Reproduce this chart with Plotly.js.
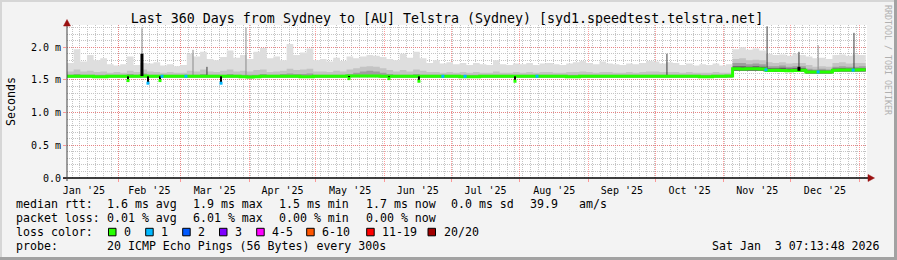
<!DOCTYPE html>
<html><head><meta charset="utf-8">
<script src="https://cdn.plot.ly/plotly-3.0.1.min.js"></script>
<style>html,body{margin:0;padding:0;background:#f3f3f3;} #chart{width:897px;height:260px;}</style>
</head><body><div id="chart"></div>
<script>
// ---- time sampling (3-day steps from the graph start) ----
const START_MS = Date.UTC(2025, 0, 8, 21, 0);
const STEP_MS = 3 * 86400000;
const X_RANGE = ['2025-01-08 21:00', '2026-01-04 11:00'];

// ---- smoke envelopes (ms) ----
const maxSmoke = [1.76,1.97,1.78,1.88,1.80,1.83,1.74,1.72,1.74,1.86,
 1.73,1.76,1.75,1.77,1.72,1.74,1.71,1.73,1.90,1.86,
 1.93,1.82,1.80,1.85,1.95,1.84,1.88,1.82,1.93,1.99,
 1.83,1.86,1.80,2.05,1.88,1.92,1.98,1.80,1.82,1.78,
 1.84,1.79,1.86,1.83,1.86,1.88,1.87,1.85,1.82,1.80,
 1.90,1.84,1.93,1.83,1.76,1.80,1.75,1.77,1.74,1.76,
 1.73,1.76,1.74,1.73,1.80,1.74,1.73,1.75,1.74,1.76,
 1.73,1.75,1.76,1.74,1.73,1.75,1.77,1.79,1.76,1.74,
 1.78,1.75,1.74,1.73,1.75,1.74,1.76,1.79,1.78,1.75,
 1.77,1.76,1.73,1.75,1.72,1.74,1.73,1.75,1.72,1.74,
 1.97,2.00,1.96,1.98,1.95,1.90,1.88,1.89,1.87,1.90,
 1.88,1.86,1.83,1.84,1.82,1.88,1.89,1.87,1.89,1.88,1.88];
const smokeMid = [1.63,1.66,1.63,1.64,1.62,1.63,1.61,1.62,1.61,1.64,
 1.62,1.66,1.63,1.62,1.61,1.62,1.61,1.61,1.64,1.63,
 1.66,1.63,1.62,1.64,1.66,1.63,1.64,1.63,1.65,1.66,
 1.62,1.63,1.64,1.67,1.65,1.66,1.67,1.63,1.63,1.62,
 1.64,1.63,1.66,1.68,1.70,1.71,1.70,1.68,1.65,1.63,
 1.65,1.63,1.66,1.64,1.62,1.62,1.61,1.62,1.61,1.62,
 1.61,1.62,1.61,1.61,1.63,1.61,1.61,1.62,1.61,1.62,
 1.61,1.62,1.62,1.61,1.61,1.62,1.62,1.63,1.62,1.61,
 1.62,1.62,1.61,1.61,1.62,1.61,1.62,1.63,1.63,1.62,
 1.62,1.62,1.61,1.62,1.61,1.61,1.61,1.62,1.61,1.61,
 1.82,1.83,1.80,1.81,1.80,1.77,1.76,1.77,1.75,1.76,
 1.76,1.73,1.70,1.71,1.70,1.76,1.77,1.75,1.76,1.76,1.75];
const smokeInner = [1.58,1.59,1.58,1.58,1.58,1.58,1.58,1.58,1.58,1.59,
 1.58,1.60,1.58,1.58,1.58,1.58,1.58,1.58,1.58,1.58,
 1.59,1.58,1.58,1.58,1.59,1.58,1.58,1.58,1.58,1.59,
 1.58,1.58,1.59,1.60,1.59,1.59,1.60,1.58,1.58,1.58,
 1.58,1.58,1.59,1.61,1.63,1.64,1.63,1.61,1.59,1.58,
 1.58,1.58,1.59,1.58,1.58,1.58,1.58,1.58,1.58,1.58,
 1.58,1.58,1.58,1.58,1.58,1.58,1.58,1.58,1.58,1.58,
 1.58,1.58,1.58,1.58,1.58,1.58,1.58,1.58,1.58,1.58,
 1.58,1.58,1.58,1.58,1.58,1.58,1.58,1.58,1.58,1.58,
 1.58,1.58,1.58,1.58,1.58,1.58,1.58,1.58,1.58,1.58,
 1.76,1.76,1.74,1.75,1.74,1.71,1.71,1.72,1.70,1.71,
 1.71,1.67,1.66,1.67,1.66,1.70,1.71,1.70,1.70,1.71,1.70];
const smokeLow = [1.535,1.535,1.535,1.535,1.535,1.535,1.535,1.535,1.535,1.535,
 1.535,1.535,1.535,1.535,1.535,1.535,1.535,1.535,1.535,1.535,
 1.535,1.535,1.535,1.535,1.535,1.535,1.53,1.525,1.53,1.535,
 1.535,1.535,1.535,1.535,1.535,1.535,1.535,1.535,1.535,1.535,
 1.535,1.535,1.54,1.54,1.54,1.54,1.54,1.535,1.535,1.535,
 1.535,1.535,1.535,1.535,1.535,1.535,1.535,1.535,1.535,1.535,
 1.535,1.535,1.535,1.535,1.535,1.535,1.535,1.535,1.535,1.535,
 1.535,1.535,1.535,1.535,1.535,1.535,1.535,1.535,1.535,1.535,
 1.535,1.535,1.535,1.535,1.535,1.535,1.535,1.535,1.535,1.535,
 1.535,1.535,1.535,1.535,1.535,1.535,1.535,1.535,1.535,1.535,
 1.64,1.64,1.64,1.64,1.64,1.625,1.625,1.625,1.625,1.625,
 1.625,1.60,1.60,1.60,1.60,1.63,1.63,1.63,1.63,1.63,1.63];
// darkest core, Nov–Dec only (samples 100..120)
const smokeCore = [1.71,1.71,1.70,1.71,1.70,1.68,1.68,1.685,1.675,1.68,
 1.68,1.645,1.64,1.645,1.64,1.675,1.68,1.675,1.675,1.68,1.675];

// ---- median rtt (ms) ----
const median = [1.555,1.555,1.555,1.555,1.55,1.55,1.555,1.555,1.555,1.555,
 1.555,1.56,1.555,1.555,1.555,1.555,1.555,1.555,1.555,1.555,
 1.555,1.555,1.555,1.555,1.555,1.555,1.55,1.545,1.55,1.555,
 1.555,1.555,1.555,1.555,1.555,1.55,1.55,1.555,1.555,1.555,
 1.555,1.555,1.56,1.56,1.56,1.56,1.56,1.555,1.555,1.555,
 1.555,1.555,1.555,1.555,1.555,1.555,1.555,1.555,1.555,1.55,
 1.55,1.55,1.555,1.555,1.555,1.555,1.555,1.555,1.555,1.555,
 1.555,1.555,1.555,1.555,1.555,1.55,1.55,1.555,1.555,1.555,
 1.555,1.555,1.555,1.555,1.555,1.555,1.555,1.555,1.555,1.555,
 1.555,1.555,1.555,1.555,1.555,1.55,1.55,1.555,1.555,1.56,
 1.672,1.668,1.670,1.672,1.668,1.645,1.648,1.645,1.642,1.645,
 1.648,1.622,1.620,1.622,1.620,1.648,1.650,1.652,1.650,1.655,1.655];

// ---- single-sample spikes ----
const graySpikeDates = ['2025-02-11 16:00','2025-03-06 16:00','2025-03-30 13:00','2025-12-13 10:00'];
const graySpikeBase  = [1.56, 1.56, 1.56, 1.62];
const graySpikeTop   = [2.29, 1.96, 2.30, 2.03];
const darkSpikeDates = ['2025-03-12 23:00','2025-10-06 07:00','2025-11-20 10:00','2025-12-04 19:00','2025-12-29 14:00'];
const darkSpikeBase  = [1.56, 1.56, 1.65, 1.64, 1.65];
const darkSpikeTop   = [1.70, 1.90, 2.32, 1.93, 2.22];
const barDates = ['2025-02-11 16:00','2025-12-04 19:00'];
const barBase  = [1.56, 1.64];
const barTop   = [1.90, 1.70];

// ---- median dips (loss events) ----
const dipDates  = ['2025-02-05 09:00','2025-02-14 09:00','2025-02-19 19:00','2025-03-19 07:00','2025-05-16 00:00','2025-06-03 00:00','2025-06-16 12:00','2025-07-29 19:00'];
const dipBottom = [1.49, 1.45, 1.49, 1.45, 1.52, 1.52, 1.48, 1.48];
const dipLoss   = [0, 1, 0, 1, 0, 0, 0, 0];

// ---- samples with 1/20 loss on the median line ----
const lossDates  = ['2025-02-20 17:00','2025-03-03 12:00','2025-06-27 07:00','2025-07-07 07:00','2025-08-08 17:00','2025-11-19 22:00','2025-12-13 10:00','2025-12-29 05:00'];
const lossValues = [1.555, 1.555, 1.555, 1.555, 1.555, 1.655, 1.622, 1.65];

// ---- legend ----
const lossLabels = ['0','1','2','3','4-5','6-10','11-19','20/20'];
const lossColors = ['#26ff00','#00b8ff','#0059ff','#7e00ff','#ff00ff','#ff5500','#ff0000','#a10000'];
const statRows = [
  ['median rtt:', '1.6 ms avg', '1.9 ms max', '1.5 ms min', '1.7 ms now', '0.0 ms sd', '39.9', 'am/s'],
  ['packet loss:', '0.01 % avg', '6.01 % max', '0.00 % min', '0.00 % now']
];
const probeText = '20 ICMP Echo Pings (56 Bytes) every 300s';
const stampText = 'Sat Jan  3 07:13:48 2026';
const titleText = 'Last 360 Days from Sydney to [AU] Telstra (Sydney) [syd1.speedtest.telstra.net]';
const yTickVals = [0, 0.5, 1.0, 1.5, 2.0];
const yTickText = ['0.0', '0.5 m', '1.0 m', '1.5 m', '2.0 m'];

// ================= build =================
function fmt(ms){ return new Date(ms).toISOString().slice(0,16).replace('T',' '); }
const dates = maxSmoke.map((_, i) => fmt(START_MS + i*STEP_MS));
const coreDates = dates.slice(100);
const coreLow = smokeLow.slice(100);

function segs(d, a, b){ const x=[], y=[]; d.forEach((t,i)=>{ x.push(t,t,null); y.push(a[i],b[i],null); }); return {x, y}; }
const medianAt = (t) => { const ms = Date.parse(t.replace(' ','T')+':00Z'); const i = Math.min(median.length-1, Math.max(0, Math.floor((ms-START_MS)/STEP_MS))); return median[i]; };

const FONT = 'DejaVu Sans Mono';
const base = {mode:'lines', line:{shape:'hv', width:0}, hoverinfo:'skip', showlegend:false};
const traces = [];
traces.push(Object.assign({}, base, {x:dates, y:smokeLow}));
traces.push(Object.assign({}, base, {x:dates, y:maxSmoke, fill:'tonexty', fillcolor:'#dedede'}));
traces.push(Object.assign({}, base, {x:dates, y:smokeLow}));
traces.push(Object.assign({}, base, {x:dates, y:smokeMid, fill:'tonexty', fillcolor:'#c4c4c4'}));
traces.push(Object.assign({}, base, {x:dates, y:smokeLow}));
traces.push(Object.assign({}, base, {x:dates, y:smokeInner, fill:'tonexty', fillcolor:'#9e9e9e'}));
traces.push(Object.assign({}, base, {x:coreDates, y:coreLow}));
traces.push(Object.assign({}, base, {x:coreDates, y:smokeCore, fill:'tonexty', fillcolor:'#5e5e5e'}));

const gs = segs(graySpikeDates, graySpikeBase, graySpikeTop);
traces.push({x:gs.x, y:gs.y, mode:'lines', line:{color:'#8a8a8a', width:1}, hoverinfo:'skip'});
const ds = segs(darkSpikeDates, darkSpikeBase, darkSpikeTop);
traces.push({x:ds.x, y:ds.y, mode:'lines', line:{color:'#3a3a3a', width:1}, hoverinfo:'skip'});

traces.push({x:dates, y:median, mode:'lines', line:{shape:'hv', color:'#26ff00', width:3}, hoverinfo:'skip'});

const bs = segs(barDates, barBase, barTop);
traces.push({x:bs.x, y:bs.y, mode:'lines', line:{color:'#000', width:3}, hoverinfo:'skip'});
const dipTopVals = dipDates.map(medianAt);
const dp = segs(dipDates, dipTopVals, dipBottom);
traces.push({x:dp.x, y:dp.y, mode:'lines', line:{color:'#000', width:2}, hoverinfo:'skip'});
traces.push({x:dipDates, y:dipBottom, mode:'markers', marker:{symbol:'square', size:3, color:dipLoss.map(k=>lossColors[k])}, hoverinfo:'skip'});
traces.push({x:lossDates, y:lossValues, mode:'markers', marker:{symbol:'square', size:3, color:lossColors[1]}, hoverinfo:'skip'});

// ---- pixel helpers for decorations (plot area 67..867 x 25..178) ----
const PL=67, PW=800, PB=178, PH=153;
const px = (x) => (x-PL)/PW;
const py = (y) => (PB-y)/PH;
const nb = (s) => s.replace(/ /g, '\u00a0');

const shapes = [
  // frame shading
  {type:'rect', xref:'paper', yref:'paper', x0:px(0), x1:px(897), y0:py(0), y1:py(2), fillcolor:'#d6d6d6', line:{width:0}},
  {type:'rect', xref:'paper', yref:'paper', x0:px(0), x1:px(2), y0:py(0), y1:py(260), fillcolor:'#d6d6d6', line:{width:0}},
  {type:'rect', xref:'paper', yref:'paper', x0:px(894), x1:px(897), y0:py(0), y1:py(260), fillcolor:'#a2a2a2', line:{width:0}},
  {type:'rect', xref:'paper', yref:'paper', x0:px(0), x1:px(897), y0:py(257), y1:py(260), fillcolor:'#a2a2a2', line:{width:0}},
  // axes
  {type:'line', xref:'paper', yref:'paper', x0:px(63), x1:px(868), y0:0, y1:0, line:{color:'#000', width:1.5}},
  {type:'line', xref:'paper', yref:'paper', x0:0, x1:0, y0:py(181), y1:py(24), line:{color:'#404040', width:1}},
  {type:'path', xref:'paper', yref:'paper', path:`M ${px(868)},${py(174.5)} L ${px(874.5)},${py(178)} L ${px(868)},${py(181.5)} Z`, fillcolor:'#9a1010', line:{color:'#9a1010', width:0.5}},
  {type:'path', xref:'paper', yref:'paper', path:`M ${px(63.5)},${py(26)} L ${px(67)},${py(19.5)} L ${px(70.5)},${py(26)} Z`, fillcolor:'#9a1010', line:{color:'#9a1010', width:0.5}}
];

const annotations = [];
const ann = (text, x, y, opts) => annotations.push(Object.assign({text:nb(text), xref:'paper', yref:'paper', x:px(x), y:py(y), xanchor:'left', yanchor:'middle', showarrow:false, borderpad:0, borderwidth:0, font:{family:FONT, size:11.6, color:'#000'}}, opts||{}));

const row1X = [16, 107, 193, 279, 366, 451, 530, 579];
statRows[0].forEach((t,i)=>ann(t, row1X[i], 204));
statRows[1].forEach((t,i)=>ann(t, row1X[i], 218));
ann('loss color:', 16, 232);
const boxX = [108.5, 145.7, 182.7, 219.5, 256.7, 306.7, 366.7, 428];
lossLabels.forEach((t,i)=>{
  shapes.push({type:'rect', xref:'paper', yref:'paper', x0:px(boxX[i]), x1:px(boxX[i]+7.5), y0:py(235.8), y1:py(228.3), fillcolor:lossColors[i], line:{color:'#000', width:1}});
  ann(t, boxX[i]+15.7, 232);
});
ann('probe:', 16, 246);
ann(probeText, 107, 246);
ann(stampText, 880, 246, {xanchor:'right'});
ann('Seconds', 10.5, 101.5, {xanchor:'center', textangle:-90});
ann('RRDTOOL / TOBI OETIKER', 888, 60, {xanchor:'center', textangle:90, font:{family:FONT, size:8.3, color:'#b0b0b0'}});

const MGRID = 'rgba(255,90,90,0.6)';
const GRID = '#c4c4c4';
const layout = {
  width:897, height:260,
  margin:{l:67, r:30, t:25, b:82, pad:0},
  paper_bgcolor:'#f3f3f3', plot_bgcolor:'#ffffff',
  showlegend:false,
  font:{family:FONT, size:10, color:'#000'},
  title:{text:titleText, font:{family:FONT, size:13.3, color:'#000'}, x:447/897, xref:'container', xanchor:'center', y:1-18.5/260, yref:'container', yanchor:'middle'},
  xaxis:{type:'date', range:X_RANGE, dtick:'M1', tick0:'2025-01-01', tickformat:"%b '%y", ticklabelmode:'period',
    showgrid:true, gridcolor:MGRID, griddash:'1px,1px', gridwidth:1,
    ticks:'outside', ticklen:3, tickcolor:MGRID, showline:false, zeroline:false, fixedrange:true,
    tickfont:{family:FONT, size:10, color:'#000'},
    minor:{dtick:3.5*86400000, tick0:'2025-01-28 17:00', showgrid:true, gridcolor:GRID, griddash:'1px,1px', gridwidth:1, ticks:''}},
  yaxis:{range:[0,2.34], tickvals:yTickVals, ticktext:yTickText,
    showgrid:true, gridcolor:MGRID, griddash:'1px,1px', gridwidth:1,
    ticks:'outside', ticklen:3, tickcolor:MGRID, showline:false, zeroline:false, fixedrange:true,
    tickfont:{family:FONT, size:10, color:'#000'},
    minor:{dtick:0.1, tick0:0, showgrid:true, gridcolor:GRID, griddash:'1px,1px', gridwidth:1, ticks:''}},
  shapes:shapes, annotations:annotations
};
Plotly.newPlot('chart', traces, layout, {staticPlot:true, displayModeBar:false});
</script></body></html>
